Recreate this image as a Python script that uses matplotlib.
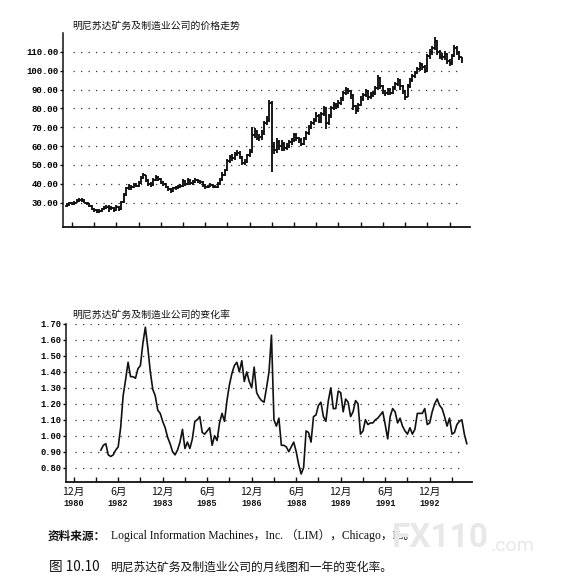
import numpy as np
import matplotlib
matplotlib.use('Agg')
import matplotlib.pyplot as plt
from matplotlib.transforms import blended_transform_factory

plt.rcParams['font.family'] = ['Noto Sans CJK SC', 'DejaVu Sans']

W, H = 567, 585

# ---------------- data (months counted from Dec 1980 = 0) ----------------
price_start = -2  # Oct 1980
close = [28.5, 29.5, 29, 30, 31, 31.5, 31.5, 30, 29.5, 28, 26.5, 26, 25, 25.5, 26.5, 27, 27.5, 27, 27, 26,
         27.5, 26.5, 30.5, 34, 37.5, 38.5, 38, 39.5, 39, 40.5, 43, 44.5, 42, 40, 39.5, 42, 43.5, 42.5, 41, 40,
         38.5, 37, 36, 37.5, 38, 38.5, 39, 41.5, 40, 42, 40.5, 41, 42, 41.5, 41, 39.5, 38, 38.5, 39.5, 38.5,
         38, 40, 42, 44.5, 47, 52, 54, 53.5, 55.5, 56.5, 54, 51, 51.5, 55, 57, 66, 68, 64.5, 65, 67,
         72, 74, 83, 60,
         58, 62, 60, 61, 59, 60, 62, 63, 66, 64, 63, 61, 64, 67, 70, 72, 74, 76, 73, 77,
         80, 72, 76, 80, 82, 81, 83, 85, 88, 90, 89, 87, 81, 79, 82, 85, 87, 89, 86, 87,
         88, 91, 96, 92, 89, 88, 90, 88, 91, 93, 95, 92, 89, 86, 92, 95, 97, 99, 101, 103,
         102, 100, 108, 110, 112, 116, 110, 108, 107, 109, 105, 104, 108, 112, 110, 107, 105]
high = [29.5, 30.5, 30.5, 31, 32, 32.5, 32.5, 32, 30.5, 30, 28.5, 27, 26.5, 26.5, 27, 28, 28.5, 28.5, 28, 27.5,
        28.5, 28, 31, 35, 38.5, 40, 39.5, 40.5, 40.5, 41.5, 44, 45.5, 44.5, 42.5, 41, 43, 44.5, 44, 43, 41.5,
        40.5, 39, 37.5, 38.5, 39, 39.5, 40, 42.5, 42, 43, 42.5, 42, 43, 42.5, 42, 41.5, 40, 39.5, 40.5, 40,
        39.5, 41, 43, 46, 48, 53, 55, 55.5, 57, 58, 57.5, 54.5, 53, 56, 58.5, 70, 69.5, 68.5, 66.5, 68.5,
        73.5, 76, 84.5, 84,
        62, 64, 63, 63, 62, 61.5, 63, 64.5, 67, 67, 65, 64, 65, 68, 71, 73.5, 75, 78, 77, 78,
        81, 80.5, 77, 81, 83.5, 83, 84.5, 86, 89, 91.5, 91, 90, 87.5, 82, 83, 86.5, 88, 90.5, 89.5, 88.5,
        89, 92, 97.5, 96.5, 92.5, 90, 91, 91, 92, 94, 96, 95.5, 92.5, 89.5, 93, 96, 98, 100, 102, 104.5,
        104, 103, 109, 111.5, 113, 118, 116.5, 111, 109.5, 110.5, 109.5, 106, 109, 113.5, 113, 110.5, 107.5]
low = [27.5, 28, 28.5, 28.5, 29.5, 30.5, 30.5, 29.5, 28.5, 27.5, 26, 25, 24.5, 24.5, 25, 26, 26.5, 25, 26, 25,
       25.5, 25.5, 26, 30, 33.5, 36.5, 36.5, 37.5, 38, 38.5, 40, 42.5, 41, 39, 38.5, 39, 41.5, 41.5, 40, 39,
       37.5, 36, 35, 35.5, 36.5, 37, 37.5, 38.5, 39, 39.5, 39.5, 39.5, 40.5, 40.5, 40, 38.5, 37, 37.5, 38, 37.5,
       37.5, 37.5, 39.5, 41.5, 44, 46.5, 51, 52, 52.5, 54.5, 53, 50, 50, 51, 54, 56.5, 64, 63, 62.5, 63,
       66, 71, 73, 46,
       56, 56.5, 58, 57.5, 57.5, 58, 59, 60.5, 62, 62.5, 61.5, 60, 60.5, 63, 66, 69, 71, 73, 72, 72,
       76, 69, 71, 75, 79, 79.5, 80, 82, 84, 87, 87.5, 85, 79, 77, 78, 81, 84, 86, 84.5, 85,
       86, 87, 90, 90.5, 87.5, 86.5, 87, 87, 87.5, 90, 92, 90, 87.5, 84.5, 86, 91, 94, 96, 98, 100,
       100.5, 98.5, 99.5, 106, 108.5, 111, 108.5, 106, 105.5, 105.5, 103.5, 102.5, 103, 107, 108.5, 105.5, 104]
first_open = 28

roc_start = 11  # Nov 1981
roc = [0.91, 0.94, 0.95, 0.88, 0.87, 0.88, 0.91, 0.93, 1.05, 1.25,
       1.35, 1.46, 1.37, 1.37, 1.36, 1.42, 1.44, 1.58, 1.68, 1.55,
       1.40, 1.29, 1.25, 1.16, 1.14, 1.09, 1.05, 0.99, 0.95, 0.90,
       0.88, 0.91, 0.96, 1.04, 0.92, 0.96, 0.92, 0.98, 1.09, 1.10,
       1.12, 1.02, 1.01, 1.03, 1.05, 0.94, 1.00, 0.97, 1.08, 1.14,
       1.09, 1.22, 1.32, 1.39, 1.44, 1.46, 1.40, 1.47, 1.34, 1.40,
       1.34, 1.30, 1.43, 1.27, 1.24, 1.22, 1.21, 1.30, 1.40, 1.63,
       1.10, 1.06, 1.11, 0.94, 0.94, 0.93, 0.90, 0.93, 0.96, 0.90,
       0.82, 0.76, 0.80, 1.03, 1.02, 0.96, 1.12, 1.13, 1.19, 1.21,
       1.12, 1.09, 1.22, 1.30, 1.17, 1.17, 1.28, 1.27, 1.15, 1.23,
       1.21, 1.12, 1.15, 1.22, 1.20, 1.01, 1.03, 1.10, 1.07, 1.08,
       1.08, 1.10, 1.11, 1.13, 1.15, 1.07, 0.98, 1.12, 1.17, 1.15,
       1.08, 1.11, 1.06, 1.03, 1.01, 1.05, 1.01, 1.04, 1.14, 1.14,
       1.14, 1.17, 1.07, 1.08, 1.15, 1.20, 1.23, 1.19, 1.17, 1.12,
       1.06, 1.11, 1.01, 1.02, 1.07, 1.09, 1.10, 1.01, 0.95]

tick_months = list(range(0, 154, 9))
label_months = [0, 18, 36, 54, 72, 90, 108, 126, 144]
label_mon = ['12月', '6月', '12月', '6月', '12月', '6月', '12月', '6月', '12月']
label_year = ['1980', '1982', '1983', '1985', '1986', '1988', '1989', '1991', '1992']
price_ticks = [30, 40, 50, 60, 70, 80, 90, 100, 110]
roc_ticks = [0.80, 0.90, 1.00, 1.10, 1.20, 1.30, 1.40, 1.50, 1.60, 1.70]

title_top = '明尼苏达矿务及制造业公司的价格走势'
title_bot = '明尼苏达矿务及制造业公司的变化率'
source_bold = '资料来源：'
source_rest = 'Logical Information Machines，Inc. （LIM），Chicago，IL。'
fig_no = '图 10.10'
fig_caption = '明尼苏达矿务及制造业公司的月线图和一年的变化率。'

# ---------------- figure ----------------
fig = plt.figure(figsize=(W / 100, H / 100), dpi=100)
fig.patch.set_facecolor('white')


def axes_px(left, top, right, bottom):
    return fig.add_axes([left / W, 1 - bottom / H, (right - left) / W, (bottom - top) / H])


mono = 'Liberation Mono'
ink = '#111111'
dot = '#333333'

# ---- top: monthly bar chart ----
ax1 = axes_px(63, 33, 470, 227)
m = np.arange(price_start, price_start + len(close))
opens = [first_open] + close[:-1]
ax1.vlines(m, low, high, color=ink, lw=1.35)
ax1.hlines(opens, m - 0.65, m, color=ink, lw=1.2)
ax1.hlines(close, m, m + 0.65, color=ink, lw=1.2)
for y in price_ticks:
    ax1.hlines(y, 0.3, 156, color=dot, lw=0.9, linestyles=[(0, (1, 5))], zorder=0)
ax1.set_xlim(-3.6, 161.3)
ax1.set_ylim(17, 120)
ax1.set_yticks(price_ticks)
ax1.set_yticklabels([f'{v:.2f}' for v in price_ticks], fontfamily=mono, fontsize=6.5, fontweight='bold')
ax1.set_xticks(tick_months)
ax1.tick_params(axis='x', direction='in', length=3.5, width=1.0, labelbottom=False, color=ink)
ax1.tick_params(axis='y', direction='out', length=2.5, width=1.0, pad=0.6, color=ink)

# ---- bottom: rate of change ----
ax2 = axes_px(66, 324, 472, 482)
mr = np.arange(roc_start, roc_start + len(roc))
ax2.plot(mr, roc, color=ink, lw=1.2)
for y in roc_ticks:
    ax2.hlines(y, 0.5, 156, color=dot, lw=0.9, linestyles=[(0, (1, 5))], zorder=0)
ax2.set_xlim(-3.1, 161.1)
ax2.set_ylim(0.71, 1.70)
ax2.set_yticks(roc_ticks)
ax2.set_yticklabels([f'{v:.2f}' for v in roc_ticks], fontfamily=mono, fontsize=6.3, fontweight='bold')
ax2.set_xticks(tick_months)
ax2.tick_params(axis='x', direction='in', length=3.5, width=1.0, labelbottom=False, color=ink)
ax2.tick_params(axis='y', direction='out', length=2.5, width=1.0, pad=0.6, color=ink)
tr = blended_transform_factory(ax2.transData, ax2.transAxes)
for mm, mon, yr in zip(label_months, label_mon, label_year):
    ax2.text(mm, -0.065, mon, transform=tr, ha='center', va='center', fontsize=7.6, color=ink)
    ax2.text(mm, -0.137, yr, transform=tr, ha='center', va='center', fontsize=6.2,
             fontfamily=mono, fontweight='bold', color=ink)

for ax in (ax1, ax2):
    for s in ('top', 'right'):
        ax.spines[s].set_visible(False)
    ax.spines['left'].set_linewidth(1.1)
    ax.spines['bottom'].set_linewidth(1.3)
    ax.spines['left'].set_color(ink)
    ax.spines['bottom'].set_color(ink)
    ax.set_facecolor('none')


def ftext(x, y, s, **kw):
    fig.text(x / W, 1 - y / H, s, va='center', **kw)


ftext(72.5, 26, title_top, fontsize=7.1, color=ink)
ftext(72.5, 315, title_bot, fontsize=7.1, color=ink)

ftext(48, 536, source_bold, fontsize=8.4, fontweight='bold', color=ink)
ftext(111, 536, source_rest, fontsize=8.4, color=ink,
      fontfamily=['Liberation Serif', 'Noto Sans CJK SC'])
ftext(49, 567, fig_no, fontsize=9.8, fontweight='medium', color=ink)
ftext(110, 567, fig_caption, fontsize=8.5, color=ink)

# watermark
ftext(392, 538, 'FX110', fontsize=24, fontweight='bold', color='#e8e8e8',
      fontfamily='Roboto', zorder=5)
ftext(491, 546, '.com', fontsize=14, color='#e8e8e8', fontfamily='Roboto', zorder=5)

fig.savefig('out.png', dpi=100, facecolor='white')
